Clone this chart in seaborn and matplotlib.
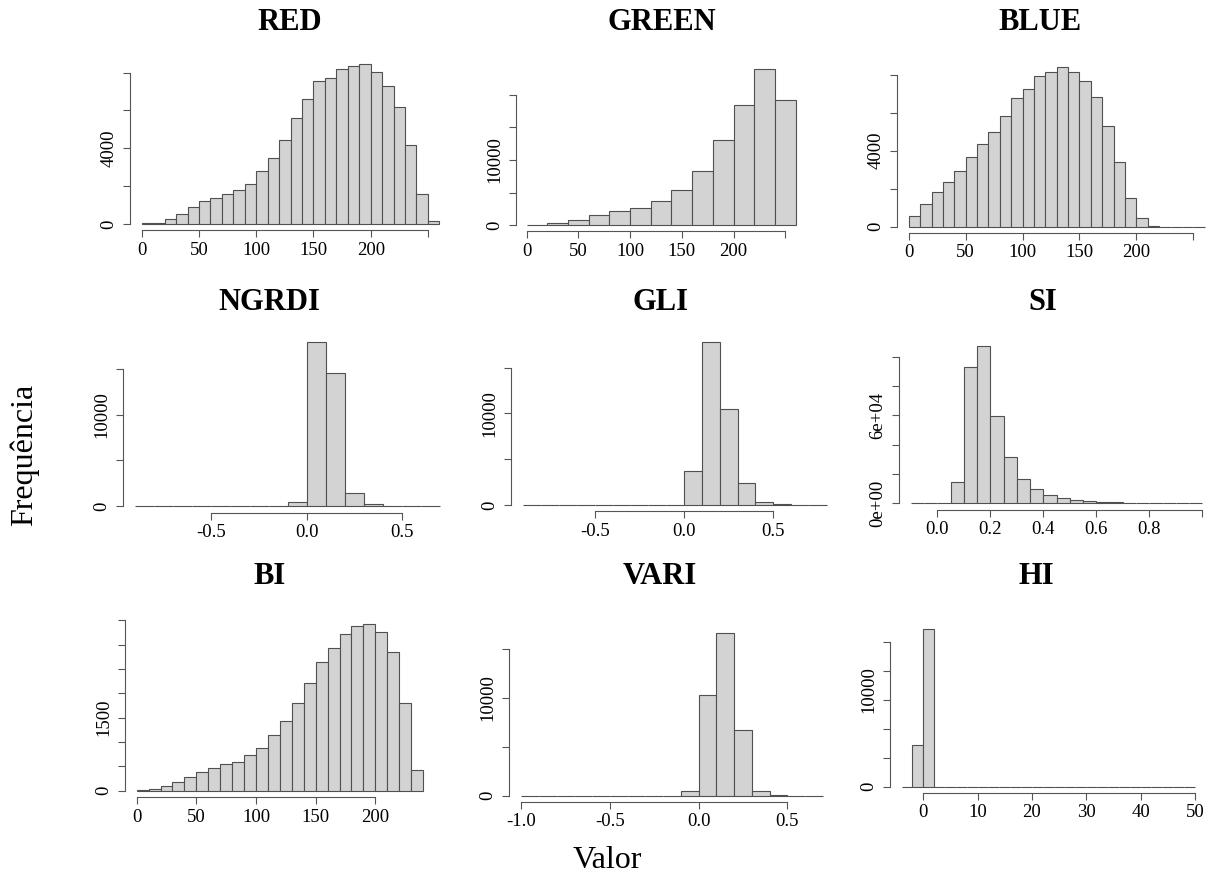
import numpy as np
import pandas as pd
import matplotlib
matplotlib.use("Agg")
import matplotlib.pyplot as plt
import seaborn as sns

# ---------------- data ----------------
RED_EDGES = [0, 10, 20, 30, 40, 50, 60, 70, 80, 90, 100, 110, 120, 130, 140, 150, 160, 170,
             180, 190, 200, 210, 220, 230, 240, 250, 260]
RED_COUNTS = [30, 60, 280, 550, 900, 1200, 1390, 1590, 1800, 2110, 2780, 3470, 4440, 5600,
              6630, 7540, 7740, 8180, 8350, 8440, 8050, 7290, 6170, 4175, 1590, 160]

GREEN_EDGES = [0, 20, 40, 60, 80, 100, 120, 140, 160, 180, 200, 220, 240, 260]
GREEN_COUNTS = [50, 410, 870, 1580, 2140, 2600, 3670, 5410, 8370, 13110, 18370, 23880, 19180]

BLUE_EDGES = [0, 10, 20, 30, 40, 50, 60, 70, 80, 90, 100, 110, 120, 130, 140, 150, 160, 170,
              180, 190, 200, 210, 220, 230, 240, 250, 260]
BLUE_COUNTS = [580, 1190, 1810, 2330, 2950, 3680, 4330, 4960, 5810, 6770, 7230, 7930, 8160,
               8400, 8160, 7670, 6810, 5300, 3420, 1530, 470, 50, 0, 0, 0, 0]

NGRDI_EDGES = [-0.9, -0.8, -0.7, -0.6, -0.5, -0.4, -0.3, -0.2, -0.1, 0.0, 0.1, 0.2, 0.3,
               0.4, 0.5, 0.6, 0.7]
NGRDI_COUNTS = [0, 0, 0, 0, 0, 0, 0, 10, 400, 18050, 14620, 1390, 185, 30, 0, 0]

GLI_EDGES = [-0.9, -0.8, -0.7, -0.6, -0.5, -0.4, -0.3, -0.2, -0.1, 0.0, 0.1, 0.2, 0.3,
             0.4, 0.5, 0.6, 0.7, 0.8]
GLI_COUNTS = [0, 0, 0, 0, 0, 0, 0, 0, 20, 3710, 17750, 10440, 2440, 365, 110, 0, 0]

SI_EDGES = [-0.1, -0.05, 0.0, 0.05, 0.1, 0.15, 0.2, 0.25, 0.3, 0.35, 0.4, 0.45, 0.5, 0.55,
            0.6, 0.65, 0.7, 0.75, 0.8, 0.85, 0.9, 0.95, 1.0]
SI_COUNTS = [0, 0, 200, 14800, 93000, 107300, 59500, 31400, 16800, 9500, 5900, 3400, 2000,
             1400, 1000, 800, 400, 300, 0, 0, 0, 0]

BI_EDGES = [0, 10, 20, 30, 40, 50, 60, 70, 80, 90, 100, 110, 120, 130, 140, 150, 160, 170,
            180, 190, 200, 210, 220, 230, 240]
BI_COUNTS = [5, 34, 96, 178, 281, 390, 459, 541, 596, 726, 877, 1137, 1438, 1801, 2205, 2637,
             2938, 3226, 3384, 3432, 3267, 2849, 1800, 420]

VARI_EDGES = [-1.0, -0.9, -0.8, -0.7, -0.6, -0.5, -0.4, -0.3, -0.2, -0.1, 0.0, 0.1, 0.2,
              0.3, 0.4, 0.5, 0.6, 0.7]
VARI_COUNTS = [0, 0, 0, 0, 0, 0, 0, 0, 5, 444, 10307, 16689, 6689, 444, 68, 0, 0]

HI_EDGES = [-4, -2, 0, 2, 4, 6, 8, 10, 12, 14, 16, 18, 20, 22, 24, 26, 28, 30, 32, 34, 36,
            38, 40, 42, 44, 46, 48, 50]
HI_COUNTS = [0, 4310, 16310, 0, 0, 0, 0, 0, 0, 0, 0, 0, 0, 0, 0, 0, 0, 0, 0, 0, 0, 0, 0,
             0, 0, 0, 0]

TITLES = ["RED", "GREEN", "BLUE", "NGRDI", "GLI", "SI", "BI", "VARI", "HI"]

X_TICKS = {
    "RED": [0, 50, 100, 150, 200, 250], "GREEN": [0, 50, 100, 150, 200, 250],
    "BLUE": [0, 50, 100, 150, 200, 250], "NGRDI": [-0.5, 0.0, 0.5], "GLI": [-0.5, 0.0, 0.5],
    "SI": [0.0, 0.2, 0.4, 0.6, 0.8, 1.0], "BI": [0, 50, 100, 150, 200],
    "VARI": [-1.0, -0.5, 0.0, 0.5], "HI": [0, 10, 20, 30, 40, 50],
}
X_LABELS = {
    "RED": ["0", "50", "100", "150", "200", ""], "GREEN": ["0", "50", "100", "150", "200", ""],
    "BLUE": ["0", "50", "100", "150", "200", ""], "NGRDI": ["-0.5", "0.0", "0.5"],
    "GLI": ["-0.5", "0.0", "0.5"], "SI": ["0.0", "0.2", "0.4", "0.6", "0.8", ""],
    "BI": ["0", "50", "100", "150", "200"], "VARI": ["-1.0", "-0.5", "0.0", "0.5"],
    "HI": ["0", "10", "20", "30", "40", "50"],
}
Y_TICKS = {
    "RED": [0, 2000, 4000, 6000, 8000], "GREEN": [0, 5000, 10000, 15000, 20000],
    "BLUE": [0, 2000, 4000, 6000, 8000], "NGRDI": [0, 5000, 10000, 15000],
    "GLI": [0, 5000, 10000, 15000], "SI": [0, 20000, 40000, 60000, 80000, 100000],
    "BI": [0, 500, 1000, 1500, 2000, 2500, 3000, 3500], "VARI": [0, 5000, 10000, 15000],
    "HI": [0, 3000, 6000, 9000, 12000, 15000],
}
Y_LABELS = {
    "RED": ["0", "", "4000", "", ""], "GREEN": ["0", "", "10000", "", ""],
    "BLUE": ["0", "", "4000", "", ""], "NGRDI": ["0", "", "10000", ""],
    "GLI": ["0", "", "10000", ""], "SI": ["0e+00", "", "", "6e+04", "", ""],
    "BI": ["0", "", "", "1500", "", "", "", ""], "VARI": ["0", "", "10000", ""],
    "HI": ["0", "", "", "", "", ""],
}
# labels that sit between ticks in the reference (value, text)
EXTRA_Y_LABELS = {"HI": ([10000], ["10000"])}

DATA = {
    "RED": (RED_EDGES, RED_COUNTS), "GREEN": (GREEN_EDGES, GREEN_COUNTS),
    "BLUE": (BLUE_EDGES, BLUE_COUNTS), "NGRDI": (NGRDI_EDGES, NGRDI_COUNTS),
    "GLI": (GLI_EDGES, GLI_COUNTS), "SI": (SI_EDGES, SI_COUNTS),
    "BI": (BI_EDGES, BI_COUNTS), "VARI": (VARI_EDGES, VARI_COUNTS),
    "HI": (HI_EDGES, HI_COUNTS),
}

# ---------------- layout (pixels: left, right, top, bottom of plot box) ----------------
W, H = 1215, 888
BOX = {
    "RED": (129.8, 451.3, 57.9, 230.4), "GREEN": (515.9, 806.4, 63.1, 231.5),
    "BLUE": (896.9, 1216.5, 60.6, 233.1), "NGRDI": (122.9, 452.4, 335.1, 512.6),
    "GLI": (511.0, 839.1, 335.8, 511.5), "SI": (899.1, 1214.0, 339.6, 509.6),
    "BI": (125.2, 434.5, 617.0, 797.4), "VARI": (509.1, 835.0, 626.1, 802.2),
    "HI": (889.8, 1206.7, 622.7, 793.0),
}
TITLE_POS = {
    "RED": (290, 22), "GREEN": (662, 22), "BLUE": (1040, 22),
    "NGRDI": (269, 302), "GLI": (660, 302), "SI": (1043, 302),
    "BI": (270, 577), "VARI": (660, 577), "HI": (1036, 577),
}

BAR = "#d3d3d3"
EDGE = "#505050"
AXC = "#555555"
TICK_LEN, TICK_PAD = 5, 4

sns.set_theme(style="white")
plt.rcParams["font.family"] = ["Liberation Serif", "DejaVu Serif"]
plt.rcParams["text.color"] = "black"
plt.rcParams["xtick.color"] = "black"
plt.rcParams["ytick.color"] = "black"

fig = plt.figure(figsize=(W / 100, H / 100), dpi=100)

for name in TITLES:
    edges, counts = DATA[name]
    edges = [float(e) for e in edges]
    df = pd.DataFrame({
        "value": [(a + b) / 2 for a, b in zip(edges[:-1], edges[1:])],
        "count": [float(c) for c in counts],
    })
    l, r, t, b = BOX[name]
    ax = fig.add_axes([l / W, 1 - b / H, (r - l) / W, (b - t) / H])
    sns.histplot(data=df, x="value", weights="count", bins=edges, ax=ax, color=BAR,
                 edgecolor=EDGE, linewidth=0.8, alpha=1)
    rng = edges[-1] - edges[0]
    ax.set_xlim(edges[0] - 0.04 * rng, edges[-1] + 0.04 * rng)
    ymax = df["count"].max()
    ax.set_ylim(-0.04 * ymax, 1.04 * ymax)
    ax.set_xlabel("")
    ax.set_ylabel("")
    ax.set_xticks(X_TICKS[name])
    ax.set_xticklabels(X_LABELS[name])
    ax.set_yticks(Y_TICKS[name])
    ax.set_yticklabels(Y_LABELS[name])
    if name in EXTRA_Y_LABELS:
        vals, texts = EXTRA_Y_LABELS[name]
        ax.set_yticks(vals, minor=True)
        ax.set_yticklabels(texts, minor=True)
        ax.tick_params(axis="y", which="minor", length=0, pad=TICK_LEN + TICK_PAD,
                       labelsize=13.5, labelcolor="black", left=True)
    for lab in ax.get_yticklabels(which="both"):
        lab.set_rotation(90)
        lab.set_va("center")
    ax.tick_params(axis="both", which="major", length=TICK_LEN, width=0.8, color=AXC,
                   labelsize=13.5, labelcolor="black", direction="out",
                   left=True, bottom=True)
    ax.tick_params(axis="x", which="major", pad=3)
    ax.tick_params(axis="y", which="major", pad=TICK_PAD)
    for s in ["top", "right"]:
        ax.spines[s].set_visible(False)
    for s in ["left", "bottom"]:
        ax.spines[s].set_color(AXC)
        ax.spines[s].set_linewidth(0.8)
    ax.spines["left"].set_bounds(Y_TICKS[name][0], Y_TICKS[name][-1])
    ax.spines["bottom"].set_bounds(X_TICKS[name][0], X_TICKS[name][-1])
    ax.patch.set_alpha(0)
    ax.grid(False)
    tx, ty = TITLE_POS[name]
    fig.text(tx / W, 1 - ty / H, name, ha="center", va="center", fontsize=22,
             fontweight="bold", color="black")

fig.text(24 / W, 1 - 455 / H, "Frequência", rotation=90, ha="center", va="center",
         fontsize=23, color="black")
fig.text(607 / W, 1 - 860 / H, "Valor", ha="center", va="center", fontsize=23,
         color="black")

fig.savefig("out.png", dpi=100, facecolor="white")
